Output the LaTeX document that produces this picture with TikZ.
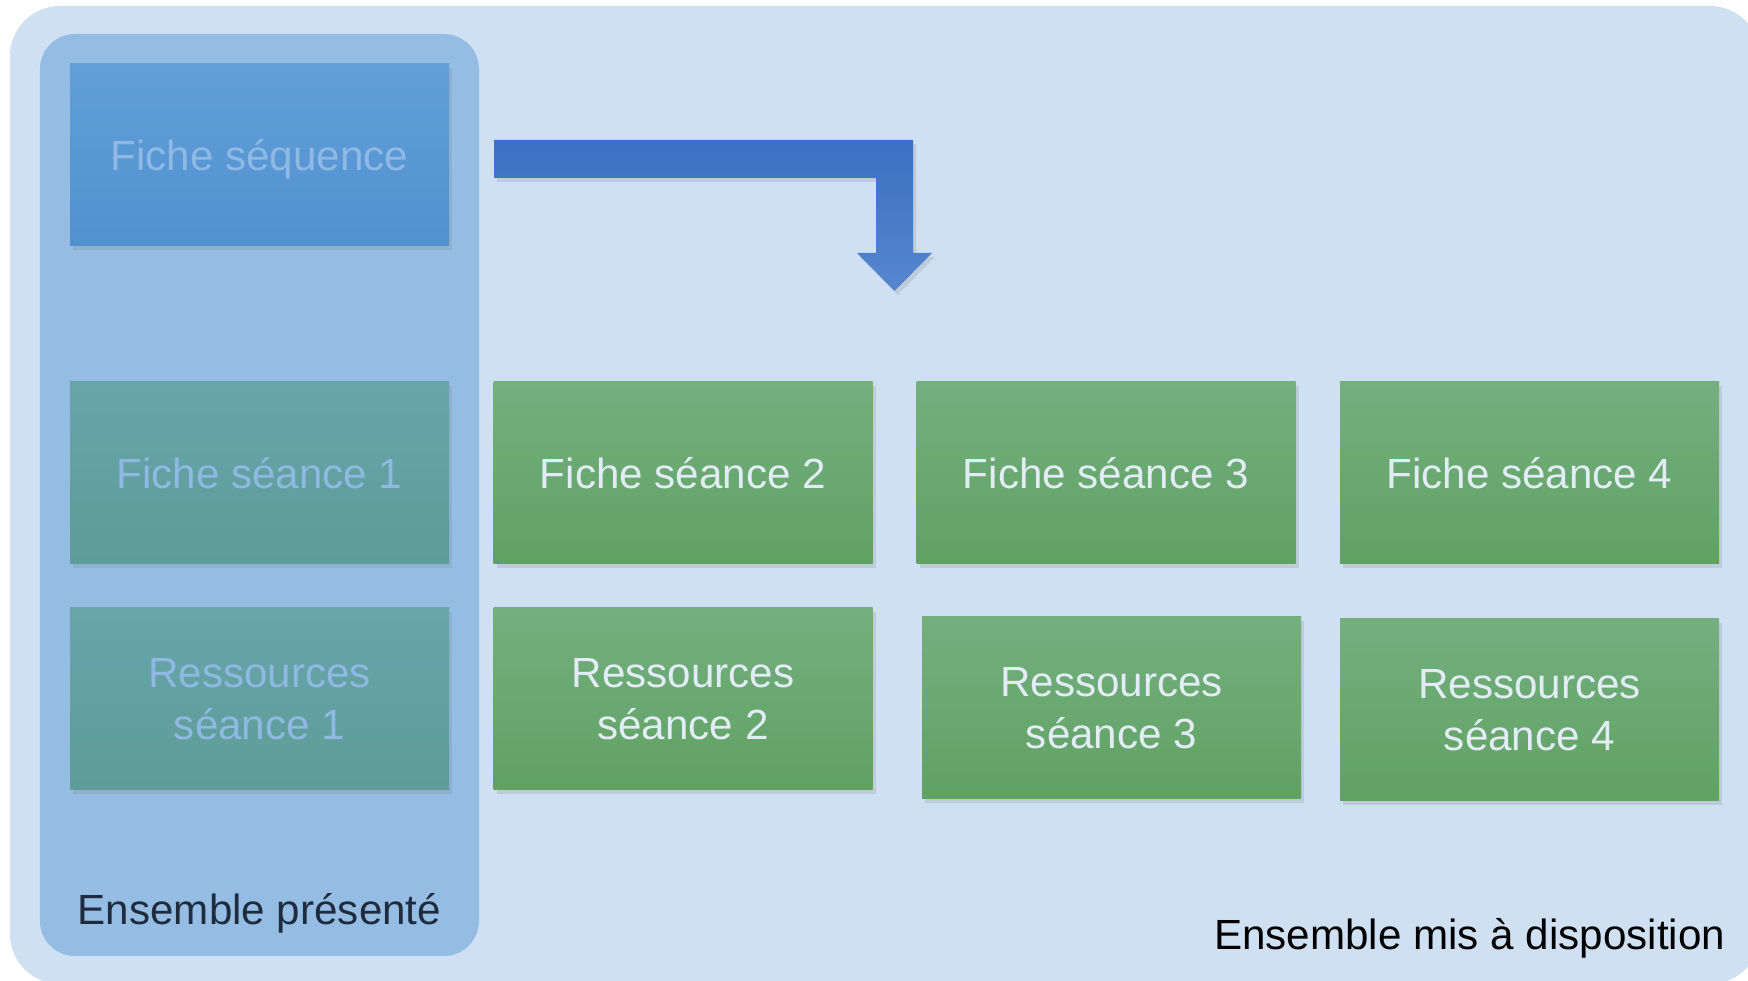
\documentclass[tikz,border=0pt]{standalone}
\usepackage{fontspec}
\setmainfont{Liberation Sans}
\usetikzlibrary{shadows}
\definecolor{fond}{HTML}{CEE0F1}
\definecolor{colonne}{HTML}{95BDE3}
\definecolor{seqH}{HTML}{629FD8}
\definecolor{seqB}{HTML}{5191D0}
\definecolor{tealH}{HTML}{68A5AB}
\definecolor{tealB}{HTML}{5E9C97}
\definecolor{vertH}{HTML}{74AF80}
\definecolor{vertB}{HTML}{60A262}
\definecolor{flecheH}{HTML}{3A71C3}
\definecolor{flecheB}{HTML}{5686CD}
\definecolor{texteclair}{HTML}{E3ECF6}
\definecolor{textefade}{HTML}{8FB9E2}
\definecolor{titre}{HTML}{1E2C3D}
\tikzset{case/.style={rectangle, minimum width=3.79cm, minimum height=1.82cm, inner sep=0pt,
      align=center, font=\fontsize{12}{14.8}\selectfont,
      drop shadow={opacity=0.2, shadow xshift=0.03cm, shadow yshift=-0.04cm}}}
\tikzset{verte/.style={case, top color=vertH, bottom color=vertB, text=texteclair}}
\tikzset{grisee/.style={case, top color=tealH, bottom color=tealB, text=textefade}}
\tikzset{legende/.style={font=\fontsize{12}{14.8}\selectfont}}

\begin{document}
\begin{tikzpicture}
		\useasboundingbox (0,0) rectangle (17.48,9.81);
		\fill[white] (0,0) rectangle (17.48,9.81);
		\clip (0,0) rectangle (17.48,9.81);
		% les deux ensembles
		\fill[fond, rounded corners=0.5cm] (0.10,-0.03) rectangle (17.60,9.75);
		\fill[colonne, rounded corners=0.35cm] (0.40,0.25) rectangle (4.79,9.47);
		% fleche coudee
		\shade[top color=flecheH, bottom color=flecheB,
		       drop shadow={opacity=0.2, shadow xshift=0.03cm, shadow yshift=-0.04cm}]
		  (4.94,8.41) -- (9.13,8.41) -- (9.13,7.28) -- (9.32,7.28) -- (8.945,6.90)
		  -- (8.57,7.28) -- (8.76,7.28) -- (8.76,8.03) -- (4.94,8.03) -- cycle;
		% colonne presentee
		\node[case, top color=seqH, bottom color=seqB, text=textefade, text depth=0pt] (seq) at (2.595,8.26) {Fiche séquence};
		\node[grisee] (fs1) at (2.595,5.08) {Fiche séance 1};
		\node[grisee] (rs1) at (2.595,2.82) {Ressources\\séance 1};
		% seances suivantes
		\node[verte] (fs2) at (6.83,5.08) {Fiche séance 2};
		\node[verte] (rs2) at (6.83,2.82) {Ressources\\séance 2};
		\node[verte] (fs3) at (11.06,5.08) {Fiche séance 3};
		\node[verte] (rs3) at (11.115,2.73) {Ressources\\séance 3};
		\node[verte] (fs4) at (15.295,5.08) {Fiche séance 4};
		\node[verte] (rs4) at (15.295,2.71) {Ressources\\séance 4};
		% titres
		\node[legende, text=titre, anchor=base] (presente) at (2.595,0.56) {Ensemble présenté};
		\node[legende, text=black, anchor=base east, inner sep=0pt] (dispo) at (17.26,0.31) {Ensemble mis à disposition};
\end{tikzpicture}
\end{document}
